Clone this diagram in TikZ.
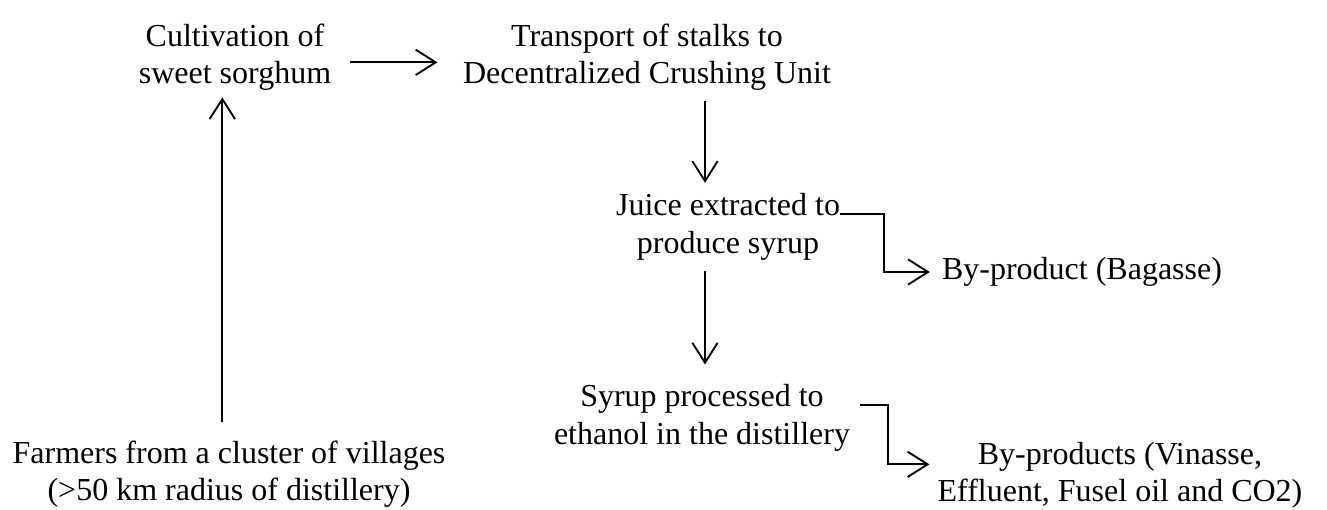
\documentclass[tikz,border=0pt]{standalone}
\usepackage{fontspec}
\setmainfont{Liberation Serif}
\usetikzlibrary{arrows.meta,positioning,calc}

\begin{document}
\begin{tikzpicture}[
    x=0.75pt, y=-0.75pt,
    stage/.style={align=center, inner sep=0pt, font=\fontsize{24}{28}\selectfont},
    arrow/.style={-{Straight Barb[length=15pt,width=19pt]}, line width=1.4pt}
]
\useasboundingbox (0,0) rectangle (1327,510);

\node[stage] (cult) at (235,57) {Cultivation of\\sweet sorghum};
\node[stage] (trans) at (647,57) {Transport of stalks to\\Decentralized Crushing Unit};
\node[stage] (juice) at (728,227) {Juice extracted to\\produce syrup};
\node[stage] (bagasse) at (1082,272) {By-product (Bagasse)};
\node[stage] (syrup) at (702,418) {Syrup processed to\\ethanol in the distillery};
\node[stage] (bypro) at (1120,475) {By-products (Vinasse,\\Effluent, Fusel oil and CO2)};
\node[stage] (farmers) at (229,474) {Farmers from a cluster of villages\\(>50 km radius of distillery)};

% vertical line shared by the middle column
\coordinate (spine) at (705,0);

\draw[arrow, shorten <=14pt, shorten >=19pt] ([yshift=-4pt]cult.east) -- ([yshift=-4pt]cult.east -| trans.west);
\draw[arrow, shorten <=8pt, shorten >=8pt] (trans.south -| spine) -- (juice.north -| spine);
\draw[arrow, shorten <=8pt, shorten >=15pt] (juice.south -| spine) -- (syrup.north -| spine);
\draw[arrow, shorten >=9pt] ([yshift=10pt]juice.east) -- ++(44,0) |- (bagasse.west);
\draw[arrow, shorten >=6pt] ([yshift=10pt]syrup.east) ++(10,0) -- ++(28,0) |- ([yshift=8pt]bypro.west);
\draw[arrow, shorten <=14pt, shorten >=5pt] ([xshift=-5pt]farmers.north) -- ([xshift=-5pt]farmers.north |- cult.south);
\end{tikzpicture}
\end{document}
